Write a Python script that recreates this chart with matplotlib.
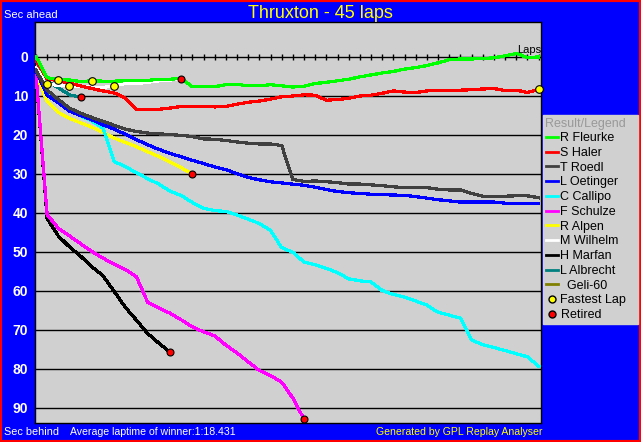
import numpy as np
import matplotlib.pyplot as plt
from matplotlib.lines import Line2D
from matplotlib.patches import Rectangle

plt.rcParams['font.family'] = ['Liberation Sans', 'DejaVu Sans']

# Seconds behind the winner's average pace, one value per lap (lap 0 = start)
fleurke = [0, 5.4, 5.9, 6.0, 6.4, 6.2, 6.3, 6.3, 6.2, 6.2, 6.1, 5.8, 5.8, 5.6,
           7.7, 7.7, 7.7, 7.2, 7.1, 7.5, 7.5, 7.2, 7.5, 7.8, 7.6, 6.9, 6.6, 6.2,
           5.8, 5.2, 4.7, 4.2, 3.8, 3.2, 2.8, 2.3, 1.6, 0.8, 0.6, 0.6, 0.5, 0.3,
           -0.2, -0.8, 0.2, 0.1]
haler = [1.0, 5.7, 6.2, 6.8, 7.5, 8.2, 8.8, 9.3, 10.6, 13.5, 13.5, 13.5, 13.2,
         12.8, 12.8, 12.8, 12.9, 12.8, 12.2, 11.7, 11.4, 10.9, 10.3, 10.1, 9.8,
         9.9, 11.2, 11.0, 10.7, 10.1, 9.9, 9.4, 8.8, 9.1, 9.2, 8.8, 8.7, 8.7,
         8.6, 8.5, 8.3, 8.2, 8.7, 8.6, 9.2, 8.4]
roedl = [3.5, 8.6, 11.0, 13.2, 14.5, 15.6, 16.6, 17.6, 18.6, 19.2, 19.6, 19.8,
         20.0, 20.2, 20.5, 21.1, 21.2, 21.5, 21.9, 22.2, 22.4, 22.4, 22.8, 31.5,
         32.0, 31.9, 32.1, 32.3, 32.7, 32.7, 32.9, 33.1, 33.4, 33.6, 33.6, 33.6,
         34.0, 34.2, 34.2, 35.1, 35.8, 35.9, 35.8, 35.7, 35.7, 36.2]
oetinger = [3.5, 9.9, 11.8, 14.0, 15.1, 16.2, 17.5, 18.6, 19.9, 21.3, 22.6, 23.8,
            24.8, 25.7, 26.6, 27.4, 28.3, 29.0, 30.0, 31.0, 31.6, 32.1, 32.4,
            32.7, 33.0, 33.5, 34.1, 34.6, 34.9, 35.1, 35.3, 35.4, 35.5, 35.6,
            35.9, 36.3, 36.7, 37.0, 37.3, 37.3, 37.3, 37.3, 37.6, 37.6, 37.6, 37.6]
callipo = [3.5, 9.5, 11.8, 13.9, 15.2, 16.5, 18.3, 26.9, 28.2, 29.8, 31.3, 32.7,
           34.5, 35.6, 37.4, 38.9, 39.5, 39.7, 40.6, 41.7, 42.8, 44.6, 49.0,
           50.2, 52.7, 53.4, 54.3, 55.4, 57.0, 57.5, 57.8, 60.0, 61.0, 61.7,
           62.7, 63.7, 65.6, 66.3, 67.1, 72.7, 73.9, 74.6, 75.4, 76.2, 77.0, 79.4]
schulze = [4.5, 40.5, 44.0, 46.0, 48.0, 50.0, 51.7, 53.2, 54.6, 56.5, 63.0, 64.5,
           65.8, 67.5, 69.3, 70.6, 71.6, 74.0, 76.0, 78.3, 80.5, 81.8, 83.5,
           87.6, 93.0]
alpen = [4.3, 11.5, 14.3, 15.8, 17.0, 18.1, 19.5, 20.9, 22.0, 23.1, 24.4, 25.6,
         27.0, 28.5, 30.1]
wilhelm = [3.0, 6.9, 7.4, 7.5, 7.7, 7.8, 7.9, 7.5, 6.9, 6.9, 6.6, 6.2, 6.0, 5.8]
marfan = [4.5, 41.5, 46.0, 48.8, 51.2, 53.9, 56.2, 60.2, 64.3, 67.6, 71.0, 73.5,
          75.8]
albrecht = [3.2, 6.3, 8.0, 9.8, 10.4]
geli = []

drivers = ['R Fleurke', 'S Haler', 'T Roedl', 'L Oetinger', 'C Callipo',
           'F Schulze', 'R Alpen', 'M Wilhelm', 'H Marfan', 'L Albrecht',
           '  Geli-60']
series = [fleurke, haler, roedl, oetinger, callipo, schulze, alpen, wilhelm,
          marfan, albrecht, geli]
colors = ['#00FF00', '#FF0000', '#404040', '#0000FF', '#00FFFF', '#FF00FF',
          '#FFFF00', '#FFFFFF', '#000000', '#008080', '#808000']
retired = ['F Schulze', 'R Alpen', 'M Wilhelm', 'H Marfan', 'L Albrecht']
# (driver, lap) of each fastest lap so far
fastest = [('M Wilhelm', 1), ('R Fleurke', 2), ('M Wilhelm', 3),
           ('R Fleurke', 5), ('M Wilhelm', 7), ('S Haler', 45)]
total_laps = 45

W, H = 641, 442
fig = plt.figure(figsize=(W / 100, H / 100), dpi=100, facecolor='#0000FF')
ax = fig.add_axes([34.5 / W, 1 - 423.3 / H, 506 / W, 401 / H])
ax.set_facecolor('#D0D0D0')
ax.set_xlim(-0.13, 45.17)
ax.set_ylim(94.05, -8.8)

# horizontal grid + lap axis at zero
ax.set_yticks(range(0, 100, 10))
ax.yaxis.grid(True, color='black', linewidth=1)
ax.set_axisbelow(True)
ax.set_xticks([])
ax.tick_params(axis='y', length=0, colors='white', labelsize=10, pad=4.5)
for lab in ax.get_yticklabels():
    lab.set_fontweight('bold')
laps_axis = np.arange(total_laps + 1)
ax.plot(laps_axis, np.zeros_like(laps_axis), linestyle='none', marker='|',
        color='black', markersize=5, mew=1, zorder=2)
for s in ax.spines.values():
    s.set_color('black')
    s.set_linewidth(1)

# driver lines
for name, vals, c in reversed(list(zip(drivers, series, colors))):
    if vals:
        ax.plot(np.arange(len(vals)), vals, color=c, linewidth=1.6,
                antialiased=False, zorder=3)

# fastest laps
fx = [lap for _, lap in fastest]
fy = [series[drivers.index(d)][lap] for d, lap in fastest]
ax.plot(fx, fy, linestyle='none', marker='o', markersize=5.5,
        markerfacecolor='#FFFF00', markeredgecolor='black', mew=0.8,
        zorder=5, clip_on=False)

# retirements
rx = [len(series[drivers.index(d)]) - 1 for d in retired]
ry = [series[drivers.index(d)][-1] for d in retired]
ax.plot(rx, ry, linestyle='none', marker='o', markersize=5,
        markerfacecolor='#FF0000', markeredgecolor='black', mew=0.8,
        zorder=5, clip_on=False)

# legend
handles = [Line2D([], [], color=c, linewidth=2) for c in colors]
labels = list(drivers)
handles.append(Line2D([], [], linestyle='none', marker='o', markersize=5,
                      markerfacecolor='#FFFF00', markeredgecolor='black'))
labels.append('Fastest Lap')
handles.append(Line2D([], [], linestyle='none', marker='o', markersize=5,
                      markerfacecolor='#FF0000', markeredgecolor='black'))
labels.append('Retired')
leg = fig.legend(handles, labels, loc='upper left',
                 bbox_to_anchor=(543 / W, 1 - 115 / H, 95 / W, 0),
                 mode='expand', fontsize=9, title='Result/Legend',
                 title_fontsize=9, alignment='left', frameon=True,
                 fancybox=False, framealpha=1, facecolor='#D0D0D0',
                 edgecolor='#D0D0D0', borderpad=0.2, labelspacing=0.22,
                 handlelength=1.0, handletextpad=0.2, borderaxespad=0)
leg.get_title().set_color('#999999')

# texts
fig.text(0.5, 1 - 14 / H, 'Thruxton - 45 laps', ha='center', va='center',
         color='#FFFF00', fontsize=13)
fig.text(4 / W, 1 - 15 / H, 'Sec ahead', ha='left', va='center',
         color='white', fontsize=8)
fig.text(517 / W, 1 - 50 / H, 'Laps', ha='left', va='center',
         color='black', fontsize=8)
fig.text(4 / W, 1 - 432 / H, 'Sec behind', ha='left', va='center',
         color='white', fontsize=7.8)
fig.text(70 / W, 1 - 432 / H, 'Average laptime of winner:1:18.431',
         ha='left', va='center', color='white', fontsize=7.6)
fig.text(542 / W, 1 - 432 / H, 'Generated by GPL Replay Analyser',
         ha='right', va='center', color='#FFFF00', fontsize=7.6)

fig.patches.append(Rectangle((0, 0), 1, 1, transform=fig.transFigure,
                             fill=False, edgecolor='#FF0000', linewidth=3))

fig.savefig('out.png', dpi=100, facecolor=fig.get_facecolor())
